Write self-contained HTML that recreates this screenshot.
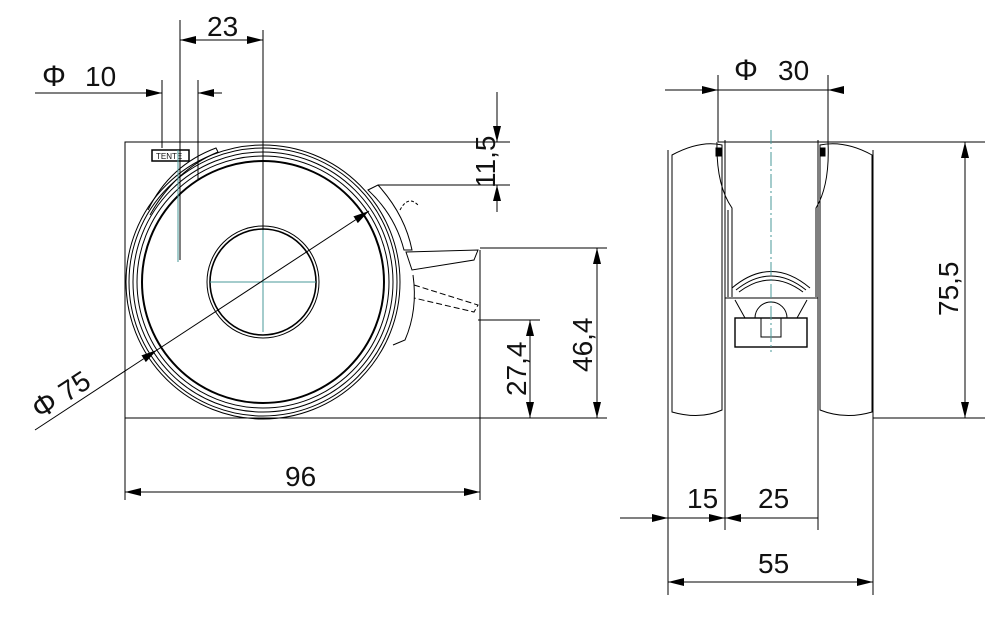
<!DOCTYPE html>
<html><head><meta charset="utf-8"><style>
html,body{margin:0;padding:0;background:#fff;}
svg{display:block;}
text{font-family:"Liberation Sans Narrow","Liberation Sans",sans-serif;font-size:28px;fill:#111;}
</style></head><body>
<svg width="1000" height="618" viewBox="0 0 1000 618" xmlns="http://www.w3.org/2000/svg">
<defs>
<marker id="b" viewBox="0 0 16 8" refX="16" refY="4" markerWidth="16" markerHeight="8" orient="auto-start-reverse" markerUnits="userSpaceOnUse"><path d="M0,0L16,4L0,8z" fill="#000"/></marker>
</defs>
<g stroke="#000" stroke-width="1" fill="none">
<!-- LEFT VIEW -->
<path d="M125,500V142H235"/>
<path d="M480,500V250"/>
<path d="M125,418H607"/>
<path d="M235,142H510"/>
<path d="M378,185H510"/>
<path d="M480,248H607"/>
<path d="M478,320H540"/>
<circle cx="263" cy="282" r="137"/>
<circle cx="263" cy="282" r="134"/>
<circle cx="263" cy="282" r="130"/>
<circle cx="263" cy="282" r="126"/>
<circle cx="263" cy="282" r="121" stroke-width="2"/>
<circle cx="263" cy="282" r="56"/>
<circle cx="263" cy="282" r="53" stroke-width="1.6"/>
<rect x="152" y="150" width="37" height="11" stroke-width="1.5"/>
<text x="156" y="159" style="font-size:8px" stroke="none">TENTE</text>
<path d="M148,210Q170,165 216,148L218,152Q175,170 150,215"/>
<path d="M368,190L378,185Q405,215 412,250L404,250Q395,215 368,190Z"/>
<path d="M406,252L478,250L474,260L412,270Z"/>
<path d="M414,285L478,305L474,312L414,298" stroke-dasharray="6,3"/>
<path d="M413,275Q418,310 405,340L393,345"/>
<path d="M400,210Q408,195 418,205" stroke-dasharray="3,2"/>
<path d="M263,30V282" />
<path d="M180,20V260"/>
<path d="M162,80V148M198,80V180"/>
<path d="M178,150V262M210,282H316M263,230V332" stroke="#4a9a9a"/>
<path d="M180,40H263" marker-start="url(#b)" marker-end="url(#b)"/>
<path d="M35,93H162" marker-end="url(#b)"/>
<path d="M222,93H198" marker-end="url(#b)"/>
<path d="M497,92V142" marker-end="url(#b)"/>
<path d="M497,212V185" marker-end="url(#b)"/>
<path d="M597,248V418" marker-start="url(#b)" marker-end="url(#b)"/>
<path d="M530,320V418" marker-start="url(#b)" marker-end="url(#b)"/>
<path d="M125,492H480" marker-start="url(#b)" marker-end="url(#b)"/>
<path d="M35,430L157,350" marker-end="url(#b)"/>
<path d="M157,350L369,211" marker-end="url(#b)"/>
<!-- RIGHT VIEW -->
<path d="M718,142H985M873,418H985"/>
<path d="M718,75V142M828,75V142"/>
<path d="M672,155Q700,140 722,145V410Q700,420 672,412Z"/>
<path d="M820,145Q845,140 872,155V412Q845,420 820,410Z"/>
<path d="M668,150V595M873,150V595M725,140V530M818,140V530"/>
<path d="M717,142Q716,185 732,208V297M828,142Q830,185 816,208V297"/>
<path d="M728,210V297M820,210V297"/>
<path d="M732,288Q771,255 810,288M736,290Q771,262 806,290M739,292Q771,268 803,292"/>
<path d="M725,298H818M735,300L745,318M807,300L797,318"/>
<rect x="735" y="318" width="72" height="29" stroke-width="1.4"/>
<path d="M755,318A16,16 0 0 1 787,318Z"/>
<rect x="761" y="318" width="20" height="19"/>
<rect x="716" y="148" width="5" height="8" fill="#000"/>
<rect x="820" y="148" width="5" height="8" fill="#000"/>
<path d="M771,130V352" stroke="#4a9a9a" stroke-dasharray="14,3,2,3"/>
<path d="M665,90H718" marker-end="url(#b)"/>
<path d="M718,90H828"/>
<path d="M840,90H828" marker-end="url(#b)"/>
<path d="M965,142V418" marker-start="url(#b)" marker-end="url(#b)"/>
<path d="M620,518H668" marker-end="url(#b)"/>
<path d="M668,518H725" marker-end="url(#b)"/>
<path d="M818,518H725" marker-end="url(#b)"/>
<path d="M668,582H873" marker-start="url(#b)" marker-end="url(#b)"/>
</g>
<g>
<text x="207" y="36">23</text>
<text x="42" y="86" style="font-size:30px">Φ</text><text x="85" y="86">10</text>
<text x="285" y="486">96</text>
<text transform="translate(495,188) rotate(-90)">11,5</text>
<text transform="translate(592,372) rotate(-90)">46,4</text>
<text transform="translate(526,396) rotate(-90)">27,4</text>
<text transform="translate(40,420) rotate(-33)"><tspan style="font-size:30px">Φ</tspan> 75</text>
<text x="734" y="80" style="font-size:30px">Φ</text><text x="778" y="80">30</text>
<text transform="translate(958,316) rotate(-90)">75,5</text>
<text x="687" y="508">15</text>
<text x="758" y="508">25</text>
<text x="758" y="573">55</text>
</g>
</svg>
</body></html>
